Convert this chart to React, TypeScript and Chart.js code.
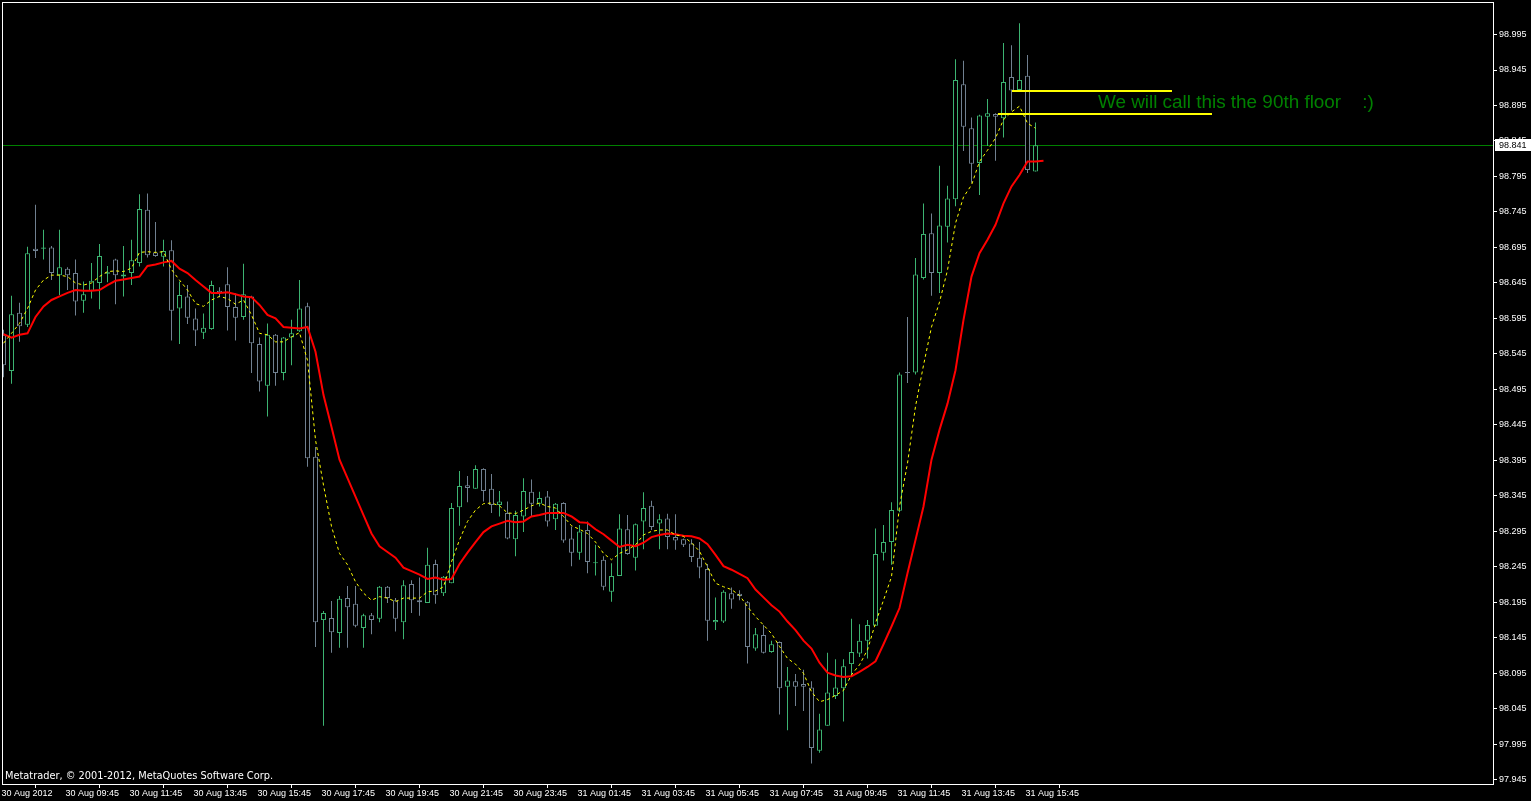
import React, { useEffect, useRef } from "react";
import { Chart, registerables } from "chart.js";
Chart.register(...registerables);

// ---- data (15-minute bars, 30 Aug 07:45 .. 31 Aug 16:00) ----
const opens = [
  98.572, 98.521, 98.603, 98.586, 98.693, 98.693, 98.695, 98.656, 98.665, 98.659,
  98.620, 98.634, 98.645, 98.658, 98.678, 98.654, 98.659, 98.673, 98.748, 98.688,
  98.682, 98.691, 98.609, 98.626, 98.595, 98.575, 98.580, 98.634, 98.643, 98.611,
  98.597, 98.626, 98.559, 98.500, 98.572, 98.518, 98.568, 98.577, 98.612, 98.400,
  98.170, 98.173, 98.152, 98.201, 98.193, 98.159, 98.177, 98.172, 98.217, 98.198,
  98.167, 98.221, 98.198, 98.194, 98.249, 98.208, 98.222, 98.329, 98.360, 98.355,
  98.383, 98.355, 98.332, 98.321, 98.284, 98.316, 98.351, 98.334, 98.344, 98.312,
  98.335, 98.285, 98.265, 98.297, 98.250, 98.255, 98.210, 98.232, 98.298, 98.258,
  98.309, 98.331, 98.306, 98.313, 98.287, 98.284, 98.278, 98.258, 98.242, 98.167,
  98.168, 98.208, 98.207, 98.195, 98.130, 98.149, 98.125, 98.139, 98.076, 98.084,
  98.080, 98.075, 97.986, 98.021, 98.063, 98.074, 98.108, 98.123, 98.141, 98.162,
  98.265, 98.280, 98.324, 98.519, 98.519, 98.652, 98.715, 98.659, 98.724, 98.763,
  98.925, 98.863, 98.814, 98.879, 98.883, 98.877, 98.935, 98.917, 98.937, 98.802,
];
const highs = [
  98.579, 98.627, 98.617, 98.696, 98.755, 98.720, 98.697, 98.720, 98.667, 98.678,
  98.647, 98.673, 98.700, 98.669, 98.679, 98.697, 98.706, 98.770, 98.771, 98.731,
  98.706, 98.705, 98.647, 98.642, 98.609, 98.602, 98.648, 98.639, 98.667, 98.630,
  98.672, 98.627, 98.568, 98.588, 98.573, 98.569, 98.593, 98.649, 98.617, 98.414,
  98.183, 98.197, 98.204, 98.218, 98.218, 98.179, 98.180, 98.218, 98.218, 98.201,
  98.226, 98.226, 98.230, 98.272, 98.255, 98.232, 98.335, 98.380, 98.373, 98.388,
  98.384, 98.376, 98.352, 98.337, 98.324, 98.370, 98.368, 98.351, 98.352, 98.335,
  98.336, 98.302, 98.304, 98.309, 98.276, 98.260, 98.250, 98.319, 98.318, 98.306,
  98.350, 98.338, 98.319, 98.320, 98.319, 98.285, 98.284, 98.280, 98.249, 98.202,
  98.212, 98.216, 98.212, 98.197, 98.159, 98.163, 98.141, 98.140, 98.104, 98.094,
  98.100, 98.084, 98.038, 98.124, 98.115, 98.115, 98.172, 98.164, 98.170, 98.299,
  98.304, 98.336, 98.519, 98.597, 98.680, 98.757, 98.743, 98.810, 98.782, 98.960,
  98.958, 98.878, 98.882, 98.904, 98.884, 98.983, 98.980, 99.011, 98.966, 98.871,
];
const lows = [
  98.512, 98.503, 98.562, 98.583, 98.680, 98.678, 98.649, 98.628, 98.635, 98.599,
  98.603, 98.623, 98.608, 98.646, 98.615, 98.626, 98.642, 98.668, 98.681, 98.682,
  98.668, 98.564, 98.559, 98.587, 98.556, 98.566, 98.579, 98.625, 98.578, 98.564,
  98.593, 98.518, 98.492, 98.457, 98.500, 98.508, 98.529, 98.576, 98.386, 98.132,
  98.021, 98.124, 98.131, 98.131, 98.160, 98.131, 98.150, 98.167, 98.194, 98.154,
  98.143, 98.180, 98.176, 98.194, 98.193, 98.204, 98.222, 98.303, 98.336, 98.355,
  98.337, 98.321, 98.316, 98.284, 98.260, 98.294, 98.316, 98.330, 98.302, 98.297,
  98.279, 98.246, 98.255, 98.236, 98.233, 98.212, 98.196, 98.232, 98.262, 98.240,
  98.270, 98.297, 98.270, 98.270, 98.269, 98.273, 98.252, 98.229, 98.141, 98.156,
  98.166, 98.186, 98.198, 98.109, 98.127, 98.123, 98.124, 98.037, 98.015, 98.049,
  98.042, 97.968, 97.983, 98.021, 98.059, 98.027, 98.091, 98.118, 98.116, 98.162,
  98.254, 98.248, 98.322, 98.504, 98.516, 98.650, 98.627, 98.631, 98.702, 98.753,
  98.831, 98.786, 98.769, 98.838, 98.817, 98.850, 98.888, 98.914, 98.800, 98.802,
];
const closes = [
  98.529, 98.601, 98.584, 98.687, 98.690, 98.695, 98.659, 98.667, 98.656, 98.619,
  98.629, 98.648, 98.683, 98.660, 98.656, 98.657, 98.677, 98.749, 98.684, 98.683,
  98.690, 98.606, 98.628, 98.596, 98.578, 98.582, 98.642, 98.631, 98.611, 98.596,
  98.629, 98.560, 98.506, 98.572, 98.518, 98.568, 98.574, 98.609, 98.398, 98.167,
  98.180, 98.153, 98.200, 98.188, 98.162, 98.177, 98.170, 98.217, 98.201, 98.172,
  98.219, 98.198, 98.195, 98.248, 98.205, 98.231, 98.328, 98.359, 98.356, 98.383,
  98.352, 98.332, 98.337, 98.285, 98.318, 98.352, 98.334, 98.342, 98.309, 98.334,
  98.282, 98.265, 98.295, 98.252, 98.251, 98.217, 98.232, 98.299, 98.263, 98.305,
  98.328, 98.301, 98.312, 98.287, 98.282, 98.276, 98.259, 98.244, 98.169, 98.170,
  98.210, 98.199, 98.204, 98.132, 98.150, 98.124, 98.136, 98.074, 98.085, 98.076,
  98.076, 97.990, 98.016, 98.068, 98.075, 98.105, 98.125, 98.141, 98.163, 98.263,
  98.280, 98.325, 98.516, 98.518, 98.657, 98.714, 98.659, 98.726, 98.764, 98.931,
  98.865, 98.813, 98.881, 98.884, 98.879, 98.928, 98.916, 98.931, 98.804, 98.839,
];
// red moving average (one bar longer: shifted)
const maSlow = [
  98.573, 98.568, 98.572, 98.574, 98.597, 98.612, 98.621, 98.626, 98.631, 98.635,
  98.634, 98.634, 98.635, 98.642, 98.648, 98.650, 98.652, 98.654, 98.669, 98.671,
  98.674, 98.676, 98.665, 98.659, 98.649, 98.640, 98.631, 98.631, 98.632, 98.629,
  98.626, 98.625, 98.614, 98.600, 98.595, 98.583, 98.582, 98.581, 98.583, 98.548,
  98.487, 98.442, 98.396, 98.370, 98.344, 98.318, 98.292, 98.274, 98.266, 98.258,
  98.244, 98.239, 98.234, 98.228, 98.230, 98.227, 98.228, 98.249, 98.265, 98.280,
  98.294, 98.302, 98.306, 98.310, 98.308, 98.309, 98.316, 98.318, 98.321, 98.321,
  98.321, 98.316, 98.308, 98.307, 98.298, 98.291, 98.282, 98.273, 98.276, 98.274,
  98.279, 98.287, 98.290, 98.292, 98.291, 98.289, 98.288, 98.285, 98.277, 98.262,
  98.246, 98.241, 98.235, 98.229, 98.213, 98.202, 98.191, 98.182, 98.168, 98.156,
  98.141, 98.130, 98.110, 98.096, 98.092, 98.090, 98.091, 98.097, 98.104, 98.112,
  98.136, 98.161, 98.187, 98.236, 98.283, 98.330, 98.396, 98.438, 98.475, 98.522,
  98.593, 98.654, 98.687, 98.706, 98.727, 98.757, 98.781, 98.797, 98.816, 98.816,
  98.817,
];
// yellow dotted moving average
const maFast = [
  98.560, 98.574, 98.588, 98.609, 98.635, 98.649, 98.656, 98.656, 98.654, 98.645,
  98.642, 98.645, 98.654, 98.661, 98.662, 98.661, 98.666, 98.688, 98.689, 98.688,
  98.689, 98.664, 98.649, 98.635, 98.616, 98.612, 98.621, 98.626, 98.623, 98.615,
  98.621, 98.600, 98.574, 98.572, 98.562, 98.562, 98.569, 98.575, 98.536, 98.424,
  98.360, 98.302, 98.264, 98.248, 98.224, 98.208, 98.198, 98.203, 98.201, 98.196,
  98.201, 98.201, 98.201, 98.210, 98.211, 98.217, 98.252, 98.283, 98.309, 98.325,
  98.334, 98.335, 98.331, 98.321, 98.320, 98.325, 98.331, 98.335, 98.330, 98.328,
  98.316, 98.303, 98.298, 98.292, 98.280, 98.264, 98.255, 98.264, 98.269, 98.276,
  98.290, 98.295, 98.297, 98.297, 98.290, 98.288, 98.279, 98.267, 98.245, 98.222,
  98.217, 98.213, 98.205, 98.189, 98.175, 98.163, 98.151, 98.133, 98.116, 98.108,
  98.095, 98.069, 98.055, 98.058, 98.064, 98.071, 98.093, 98.107, 98.128, 98.166,
  98.198, 98.231, 98.330, 98.391, 98.471, 98.529, 98.583, 98.618, 98.663, 98.729,
  98.766, 98.783, 98.816, 98.832, 98.849, 98.875, 98.886, 98.894, 98.870, 98.863,
];
const timeTickBars = [0, 8, 16, 24, 32, 40, 48, 56, 64, 72, 80, 88, 96, 104, 112, 120, 128];
const timeLabels = [
  "30 Aug 2012", "30 Aug 09:45", "30 Aug 11:45", "30 Aug 13:45", "30 Aug 15:45",
  "30 Aug 17:45", "30 Aug 19:45", "30 Aug 21:45", "30 Aug 23:45", "31 Aug 01:45",
  "31 Aug 03:45", "31 Aug 05:45", "31 Aug 07:45", "31 Aug 09:45", "31 Aug 11:45",
  "31 Aug 13:45", "31 Aug 15:45",
];
const priceTicks = [
  98.995, 98.945, 98.895, 98.845, 98.795, 98.745, 98.695, 98.645, 98.595, 98.545, 98.495,
  98.445, 98.395, 98.345, 98.295, 98.245, 98.195, 98.145, 98.095, 98.045, 97.995, 97.945,
];
const bidPrice = 98.841;
const levelUpper = { from: 126.06, to: 146.06, price: 98.9154 };
const levelLower = { from: 124.3, to: 151.06, price: 98.883 };
const note = { text: "We will call this the 90th floor    :)", bar: 136.8, price: 98.892 };
const copyright = "Metatrader, \u00A9 2001-2012, MetaQuotes Software Corp.";

const BULL = "rgb(60,179,113)";
const BEAR = "rgb(112,128,144)";
const AXIS_FONT = { family: "Liberation Sans", size: 9 };

export default function App() {
  const ref = useRef<HTMLCanvasElement>(null);
  useEffect(() => {
    document.body.style.margin = "0";
    document.body.style.background = "#000";
    const idx = opens.map((_, i) => i);
    const colors = idx.map((i) => (closes[i] >= opens[i] ? BULL : BEAR));

    const bidRow = (chart: any) => Math.round(chart.scales.y.getPixelForValue(bidPrice)) + 1;

    const overlay = {
      id: "overlay",
      beforeDraw(chart: any) {
        const c = chart.ctx;
        c.save();
        c.fillStyle = "#000";
        c.fillRect(0, 0, chart.width, chart.height);
        c.restore();
      },
      beforeDatasetsDraw(chart: any) {
        const { ctx: c, chartArea: a } = chart;
        const by = bidRow(chart) + 0.5;
        c.save();
        c.strokeStyle = "rgb(0,128,0)";
        c.lineWidth = 1;
        c.beginPath();
        c.moveTo(a.left, by);
        c.lineTo(a.right, by);
        c.stroke();
        c.restore();
      },
      afterDraw(chart: any) {
        const { ctx: c, chartArea: a, scales } = chart;
        c.save();
        // frame
        c.strokeStyle = "#fff";
        c.lineWidth = 1;
        c.strokeRect(a.left + 0.5, a.top + 0.5, a.right - a.left - 1, a.bottom - a.top - 1);
        // bid label box
        const by = bidRow(chart);
        c.fillStyle = "#fff";
        c.fillRect(a.right + 1, by - 6, chart.width - a.right - 1, 12);
        c.fillStyle = "#000";
        c.font = '9px "Liberation Sans"';
        c.textBaseline = "middle";
        c.textAlign = "left";
        c.fillText(bidPrice.toFixed(3), a.right + 5, by + 0.5);
        // copyright
        c.fillStyle = "#fff";
        c.font = '9.8px "DejaVu Sans"';
        c.textBaseline = "alphabetic";
        c.fillText(copyright, 5, 779);
        // annotation
        c.fillStyle = "#008000";
        c.font = '18.9px "Liberation Sans"';
        c.fillText(note.text, scales.x.getPixelForValue(note.bar), scales.y.getPixelForValue(note.price));
        c.restore();
      },
    };

    const chart = new Chart(ref.current as HTMLCanvasElement, {
      type: "bar",
      data: {
        datasets: [
          {
            type: "line",
            label: "upper level",
            data: [
              { x: levelUpper.from, y: levelUpper.price },
              { x: levelUpper.to, y: levelUpper.price },
            ],
            borderColor: "#ffff00",
            borderWidth: 2,
            pointRadius: 0,
            order: 0,
          },
          {
            type: "line",
            label: "lower level",
            data: [
              { x: levelLower.from, y: levelLower.price },
              { x: levelLower.to, y: levelLower.price },
            ],
            borderColor: "#ffff00",
            borderWidth: 2,
            pointRadius: 0,
            order: 0,
          },
          {
            type: "line",
            label: "MA fast",
            data: maFast.map((v, i) => ({ x: i, y: v })),
            borderColor: "#ffff00",
            borderWidth: 1,
            borderDash: [3, 3],
            pointRadius: 0,
            order: 0,
          },
          {
            type: "line",
            label: "MA slow",
            data: maSlow.map((v, i) => ({ x: i, y: v })),
            borderColor: "#ff0000",
            borderWidth: 2,
            pointRadius: 0,
            order: 0,
          },
          {
            type: "bar",
            label: "bodies",
            data: idx.map((i) => ({ x: i, y: [opens[i], closes[i]] })),
            backgroundColor: "#000",
            borderColor: colors,
            borderWidth: 1,
            borderSkipped: false,
            barThickness: 5,
            maxBarThickness: 5,
            grouped: false,
            minBarLength: 1,
            inflateAmount: 0,
            order: 1,
          } as any,
          {
            type: "bar",
            label: "wicks",
            data: idx.map((i) => ({ x: i, y: [lows[i], highs[i]] })),
            backgroundColor: colors,
            borderWidth: 0,
            barThickness: 1,
            maxBarThickness: 1,
            grouped: false,
            inflateAmount: 0,
            order: 2,
          } as any,
        ],
      },
      options: {
        responsive: false,
        animation: false,
        devicePixelRatio: 1,
        events: [],
        layout: { padding: { left: 2, top: 2, right: 0, bottom: 0 } },
        plugins: { legend: { display: false }, tooltip: { enabled: false } },
        scales: {
          x: {
            type: "linear",
            min: -0.1875,
            max: 186.3125,
            offset: false,
            bounds: "data",
            border: { display: false },
            grid: { drawOnChartArea: false, drawTicks: true, tickLength: 3, color: "#fff" },
            ticks: {
              autoSkip: false,
              maxRotation: 0,
              minRotation: 0,
              align: "start",
              labelOffset: -2,
              padding: 0,
              color: "#fff",
              font: AXIS_FONT,
              callback: (_v: any, i: number) => timeLabels[i],
            },
            afterBuildTicks: (s: any) => {
              s.ticks = timeTickBars.map((v) => ({ value: v }));
            },
            afterFit: (s: any) => {
              s.height = 16;
              s.paddingLeft = 0;
              s.paddingRight = 0;
            },
          },
          y: {
            type: "linear",
            position: "right",
            min: 97.9377,
            max: 99.0408,
            bounds: "data",
            border: { display: false },
            grid: { drawOnChartArea: false, drawTicks: true, tickLength: 3, color: "#fff" },
            ticks: {
              autoSkip: false,
              padding: 2,
              color: "#fff",
              font: AXIS_FONT,
              callback: (v: any) => Number(v).toFixed(3),
            },
            afterBuildTicks: (s: any) => {
              s.ticks = priceTicks.map((v) => ({ value: v }));
            },
            afterFit: (s: any) => {
              s.width = 37;
              s.paddingTop = 0;
              s.paddingBottom = 0;
            },
          },
        },
      } as any,
      plugins: [overlay],
    });
    return () => chart.destroy();
  }, []);

  return (
    <div style={{ position: "absolute", left: 0, top: 0, width: 1531, height: 801, background: "#000" }}>
      <canvas ref={ref} width={1531} height={801} style={{ display: "block", width: 1531, height: 801 }} />
    </div>
  );
}
